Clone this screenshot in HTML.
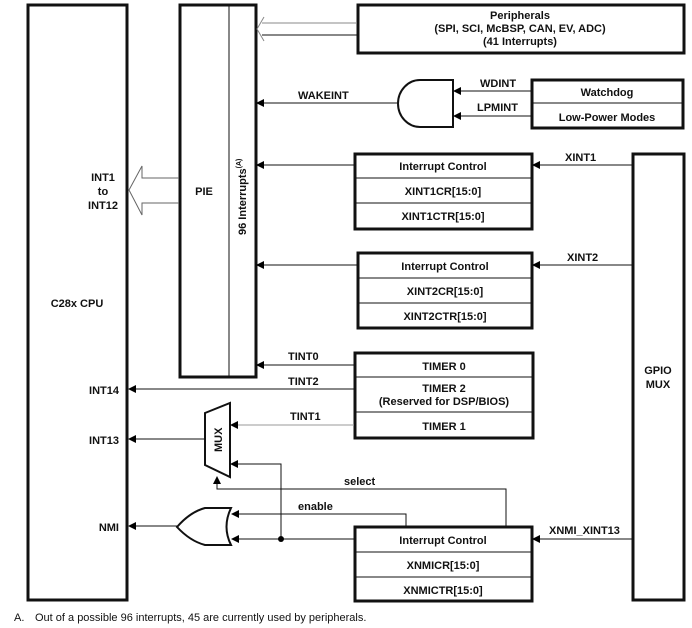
<!DOCTYPE html>
<html><head><meta charset="utf-8"><style>
html,body{margin:0;padding:0;background:#fff;}
svg{display:block;}
text{font-family:"Liberation Sans",Arial,sans-serif;font-weight:bold;font-size:11px;fill:#111;}
</style></head><body>
<svg width="692" height="628" viewBox="0 0 692 628" xmlns="http://www.w3.org/2000/svg">
<defs>
<marker id="a" markerWidth="8" markerHeight="8" refX="7" refY="4" orient="auto" markerUnits="userSpaceOnUse">
<path d="M0,0 L8,4 L0,8 Z" fill="#000"/></marker>
</defs>
<g fill="none" stroke="#111" stroke-width="3">
<rect x="28" y="5" width="99" height="595"/>
<rect x="180" y="5" width="76" height="372"/>
<rect x="358" y="5" width="326" height="48"/>
<rect x="532" y="80" width="151" height="48"/>
<rect x="355" y="154" width="177" height="75"/>
<rect x="358" y="253" width="174" height="75"/>
<rect x="355" y="353" width="178" height="85"/>
<rect x="355" y="527" width="177" height="74"/>
<rect x="633" y="154" width="51" height="446"/>
</g>
<g stroke="#111" stroke-width="1" fill="none">
<line x1="229" y1="5" x2="229" y2="377"/>
<line x1="532" y1="103" x2="683" y2="103"/>
<line x1="355" y1="178" x2="532" y2="178"/>
<line x1="355" y1="203" x2="532" y2="203"/>
<line x1="358" y1="278" x2="532" y2="278"/>
<line x1="358" y1="303" x2="532" y2="303"/>
<line x1="355" y1="377" x2="533" y2="377"/>
<line x1="355" y1="412" x2="533" y2="412"/>
<line x1="355" y1="552" x2="532" y2="552"/>
<line x1="355" y1="577" x2="532" y2="577"/>
<path d="M357,23 H262 M357,35 H262 M264,17 L257,29 L264,41" stroke="#888"/>
<line x1="357" y1="35" x2="262" y2="35"/>
<path d="M179,178 H142 V166 L129,190 L142,215 V203 H179" stroke="#666"/>
<path d="M453,80 H420 A22,23.5 0 0 0 420,127 H453 Z" stroke-width="2"/>
<line x1="398" y1="103" x2="257" y2="103" marker-end="url(#a)"/>
<line x1="531" y1="91" x2="454" y2="91" marker-end="url(#a)"/>
<line x1="531" y1="116" x2="454" y2="116" marker-end="url(#a)"/>
<line x1="354" y1="165" x2="257" y2="165" marker-end="url(#a)"/>
<line x1="632" y1="165" x2="533" y2="165" marker-end="url(#a)"/>
<line x1="357" y1="265" x2="257" y2="265" marker-end="url(#a)"/>
<line x1="632" y1="265" x2="533" y2="265" marker-end="url(#a)"/>
<line x1="354" y1="365" x2="257" y2="365" marker-end="url(#a)"/>
<line x1="354" y1="389" x2="129" y2="389" marker-end="url(#a)"/>
<line x1="354" y1="425" x2="231" y2="425" stroke="#999" marker-end="url(#a)"/>
<path d="M205,413 L230,403 L230,477 L205,465 Z" stroke-width="2"/>
<line x1="205" y1="439" x2="129" y2="439" marker-end="url(#a)"/>
<path d="M281,538 V464 H231" marker-end="url(#a)"/>
<path d="M506,527 V489 H217 V477" marker-end="url(#a)"/>
<path d="M231,508 H205 Q190,512 177,527 Q190,541 205,545 H231 Q222,527 231,508 Z" stroke-width="2"/>
<line x1="177" y1="526" x2="129" y2="526" marker-end="url(#a)"/>
<path d="M406,527 V514 H232" marker-end="url(#a)"/>
<line x1="354" y1="539" x2="232" y2="539" marker-end="url(#a)"/>
<line x1="632" y1="539" x2="533" y2="539" marker-end="url(#a)"/>
</g>
<circle cx="281" cy="539" r="3" fill="#000"/>
<g text-anchor="middle">
<text x="520" y="19">Peripherals</text>
<text x="520" y="32">(SPI, SCI, McBSP, CAN, EV, ADC)</text>
<text x="520" y="45">(41 Interrupts)</text>
<text x="607" y="96">Watchdog</text>
<text x="607" y="121">Low-Power Modes</text>
<text x="443" y="170">Interrupt Control</text>
<text x="443" y="195">XINT1CR[15:0]</text>
<text x="443" y="220">XINT1CTR[15:0]</text>
<text x="445" y="270">Interrupt Control</text>
<text x="445" y="295">XINT2CR[15:0]</text>
<text x="445" y="320">XINT2CTR[15:0]</text>
<text x="444" y="370">TIMER 0</text>
<text x="444" y="392">TIMER 2</text>
<text x="444" y="405">(Reserved for DSP/BIOS)</text>
<text x="444" y="430">TIMER 1</text>
<text x="443" y="544">Interrupt Control</text>
<text x="443" y="569">XNMICR[15:0]</text>
<text x="443" y="594">XNMICTR[15:0]</text>
<text x="658" y="374">GPIO</text>
<text x="658" y="388">MUX</text>
<text x="103" y="181">INT1</text>
<text x="103" y="195">to</text>
<text x="103" y="209">INT12</text>
<text x="77" y="307">C28x CPU</text>
<text x="204" y="195">PIE</text>
</g>
<g text-anchor="end">
<text x="119" y="394">INT14</text>
<text x="119" y="444">INT13</text>
<text x="119" y="531">NMI</text>
</g>
<text x="298" y="99">WAKEINT</text>
<text x="480" y="87">WDINT</text>
<text x="477" y="111">LPMINT</text>
<text x="565" y="161">XINT1</text>
<text x="567" y="261">XINT2</text>
<text x="288" y="360">TINT0</text>
<text x="288" y="385">TINT2</text>
<text x="290" y="420">TINT1</text>
<text x="344" y="485">select</text>
<text x="298" y="510">enable</text>
<text x="549" y="534">XNMI_XINT13</text>
<text transform="translate(246,235) rotate(-90)">96 Interrupts<tspan font-size="7" dy="-5">(A)</tspan></text>
<text x="14" y="621" style="font-weight:normal;font-size:11px">A.</text>
<text x="35" y="621" style="font-weight:normal;font-size:11px">Out of a possible 96 interrupts, 45 are currently used by peripherals.</text>
<text transform="translate(222,452) rotate(-90)" font-size="10">MUX</text>
</svg>
</body></html>
